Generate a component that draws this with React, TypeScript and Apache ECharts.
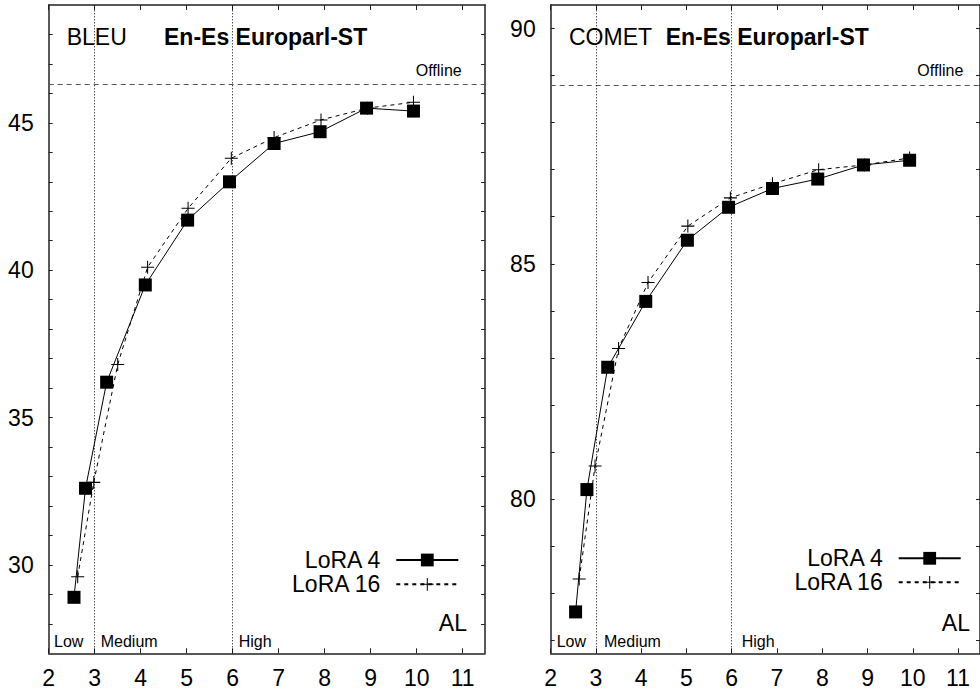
import React, { useEffect, useRef } from "react";
import * as echarts from "echarts";

// Average lagging (AL) values per configuration
const alLoRA4 = [2.55, 2.8, 3.26, 4.1, 5.02, 5.93, 6.9, 7.9, 8.91, 9.93];
const alLoRA16 = [2.63, 2.98, 3.5, 4.15, 5.03, 5.97, 6.9, 7.92, 8.93, 9.93];

// BLEU scores
const bleuLoRA4 = [28.9, 32.6, 36.2, 39.5, 41.7, 43.0, 44.3, 44.7, 45.5, 45.4];
const bleuLoRA16 = [29.6, 32.8, 36.8, 40.1, 42.1, 43.8, 44.5, 45.1, 45.5, 45.7];
const bleuOffline = 46.3;

// COMET scores
const cometLoRA4 = [77.6, 80.2, 82.8, 84.2, 85.5, 86.2, 86.6, 86.8, 87.1, 87.2];
const cometLoRA16 = [78.3, 80.7, 83.2, 84.6, 85.8, 86.4, 86.7, 87.0, 87.1, 87.25];
const cometOffline = 88.8;

// Latency regime boundaries
const regimeBounds = [3, 6];

// Axis ticks and labels
const xTicks = [2, 3, 4, 5, 6, 7, 8, 9, 10, 11];
const bleuTicks = [28, 29, 30, 31, 32, 33, 34, 35, 36, 37, 38, 39, 40, 41, 42, 43, 44, 45, 46, 47, 48];
const bleuLabels = [30, 35, 40, 45];
const cometTicks = [77, 78, 79, 80, 81, 82, 83, 84, 85, 86, 87, 88, 89, 90];
const cometLabels = [80, 85, 90];

const FONT = "'Liberation Sans', Arial, Helvetica, sans-serif";
const AXIS_COLOR = "#222";
const PLUS = "path://M0,4.6H10V5.4H0Z M4.6,0H5.4V10H4.6Z";

const zip = (xs: number[], ys: number[]) => xs.map((x, i) => [x, ys[i]]);

function xAxes(gridIndex: number) {
  const base = {
    type: "value" as const,
    gridIndex,
    min: 2,
    max: 11.485,
    splitLine: { show: false },
    axisLine: { show: true, onZero: false, lineStyle: { color: AXIS_COLOR, width: 1.5 } },
    axisTick: { show: true, inside: true, length: 5, customValues: xTicks, lineStyle: { color: AXIS_COLOR, width: 1 } },
  };
  return [
    {
      ...base,
      position: "bottom",
      axisLabel: { show: true, customValues: xTicks, fontSize: 23, fontFamily: FONT, color: "#000", margin: 13 },
    },
    { ...base, position: "top", axisLabel: { show: false } },
  ];
}

function yAxes(gridIndex: number, min: number, max: number, ticks: number[], labels: number[]) {
  const base = {
    type: "value" as const,
    gridIndex,
    min,
    max,
    splitLine: { show: false },
    axisLine: { show: true, onZero: false, lineStyle: { color: AXIS_COLOR, width: 1.5 } },
    axisTick: { show: true, inside: true, length: 4, customValues: ticks, lineStyle: { color: AXIS_COLOR, width: 1 } },
  };
  return [
    {
      ...base,
      position: "left",
      axisLabel: { show: true, customValues: labels, fontSize: 23, fontFamily: FONT, color: "#000", margin: 15 },
    },
    { ...base, position: "right", axisLabel: { show: false } },
  ];
}

function panelSeries(axisIdx: number, y4: number[], y16: number[], offline: number) {
  return [
    {
      name: "LoRA 4",
      type: "line",
      xAxisIndex: axisIdx,
      yAxisIndex: axisIdx,
      data: zip(alLoRA4, y4),
      symbol: "rect",
      symbolSize: 13,
      lineStyle: { color: "#000", width: 1 },
      itemStyle: { color: "#000" },
      z: 5,
      markLine: {
        silent: true,
        symbol: "none",
        label: { show: false },
        data: [
          { yAxis: offline, lineStyle: { color: "#555", width: 1, type: [5, 4] } },
          ...regimeBounds.map((b) => ({ xAxis: b, lineStyle: { color: "#000", width: 1, type: [1, 2] } })),
        ],
      },
    },
    {
      name: "LoRA 16",
      type: "line",
      xAxisIndex: axisIdx,
      yAxisIndex: axisIdx,
      data: zip(alLoRA16, y16),
      symbol: PLUS,
      symbolSize: 13,
      lineStyle: { color: "#000", width: 1, type: [4, 4] },
      itemStyle: { color: "#000" },
      z: 4,
    },
  ];
}

function legend(name: string, right: number, top: number) {
  return {
    data: [name],
    right,
    top,
    align: "right",
    orient: "horizontal",
    padding: 0,
    itemWidth: 62,
    itemHeight: 16,
    selectedMode: false,
    textStyle: { fontSize: 23, lineHeight: 23, fontFamily: FONT, color: "#000", padding: [0, 11, 0, 0] },
  };
}

function txt(text: string, x: number, y: number, size: number, align = "left", bold = false) {
  return {
    type: "text",
    x,
    y,
    silent: true,
    style: {
      text,
      fontSize: size,
      fontFamily: FONT,
      fontWeight: bold ? "bold" : "normal",
      fill: "#000",
      align,
      textAlign: align,
      verticalAlign: "middle",
      textVerticalAlign: "middle",
    },
  };
}

const option = {
  animation: false,
  backgroundColor: "#fff",
  grid: [
    { left: 48.7, top: 5, width: 436.3, height: 648.3 },
    { left: 550.7, top: 5, width: 436.3, height: 648.3 },
  ],
  xAxis: [...xAxes(0), ...xAxes(1)],
  yAxis: [...yAxes(0, 27, 49, bleuTicks, bleuLabels), ...yAxes(1, 76.72, 90.5, cometTicks, cometLabels)],
  legend: [
    legend("LoRA 4", 520.7, 548.5),
    legend("LoRA 16", 520.7, 572.8),
    legend("LoRA 4", 18.3, 546.8),
    legend("LoRA 16", 18.3, 570.8),
  ],
  series: [...panelSeries(0, bleuLoRA4, bleuLoRA16, bleuOffline), ...panelSeries(2, cometLoRA4, cometLoRA16, cometOffline)],
  graphic: [
    txt("BLEU", 66.7, 37, 23),
    txt("En-Es Europarl-ST", 164, 37, 23, "left", true),
    txt("COMET", 569, 37, 23),
    txt("En-Es Europarl-ST", 665.7, 37, 23, "left", true),
    txt("Offline", 461.7, 70, 16, "right"),
    txt("Offline", 963.3, 70, 16, "right"),
    txt("Low", 54, 641.7, 16),
    txt("Medium", 100.7, 641.7, 16),
    txt("High", 238.7, 641.7, 16),
    txt("Low", 556.7, 641.7, 16),
    txt("Medium", 604, 641.7, 16),
    txt("High", 741.7, 641.7, 16),
    txt("AL", 467, 623, 23, "right"),
    txt("AL", 970, 623, 23, "right"),
  ],
};

export default function App() {
  const ref = useRef<HTMLDivElement>(null);
  useEffect(() => {
    const chart = echarts.init(ref.current!, null, { renderer: "svg" });
    chart.setOption(option as any);
    return () => chart.dispose();
  }, []);
  return (
    <div
      ref={ref}
      style={{ position: "fixed", left: 0, top: 0, width: 980, height: 693, background: "#fff" }}
    />
  );
}
